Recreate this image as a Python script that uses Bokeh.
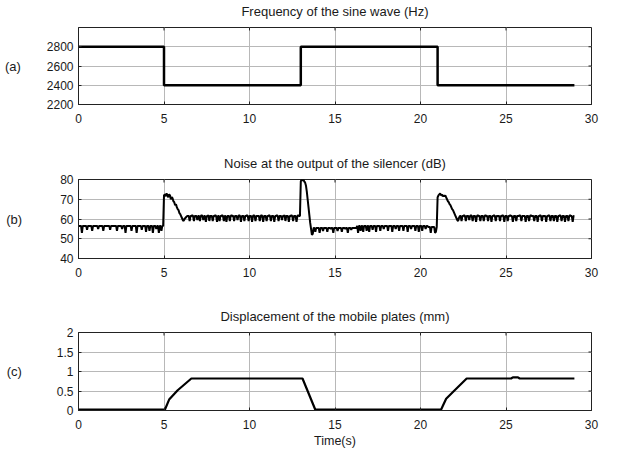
import numpy as np
from bokeh.plotting import figure
from bokeh.models import Range1d, FixedTicker, NumeralTickFormatter, LinearAxis
from bokeh.layouts import column
from bokeh.embed import file_html
from bokeh.resources import INLINE

# ---------------- data ----------------
x_ticks = [0, 5, 10, 15, 20, 25, 30]

freq_t = [0, 5, 5, 13, 13, 21, 21, 29]
freq_hz = [2800, 2800, 2400, 2400, 2800, 2800, 2400, 2400]
freq_ticks = [2200, 2400, 2600, 2800]

noise_step = 0.05
noise_db = [
    # 0 s
    56.5, 56.5, 56.5, 56.5, 53, 56.5, 56.5, 56.5, 56.5, 56.5, 54.5, 56.5, 56.5, 56.5, 56.5, 56.5, 54, 56.5, 56.5, 56.5,
    # 1 s
    56.5, 56.5, 56.5, 55, 56.5, 56.5, 56.5, 56.5, 56.5, 54, 56.5, 56.5, 56.5, 56.5, 56.5, 56.5, 56.5, 54.5, 56.5, 56.5,
    # 2 s
    56.5, 56.5, 56.5, 56.5, 56.5, 54, 56.5, 56.5, 56.5, 56.5, 56.5, 55, 56.5, 56.5, 56.5, 53, 56.5, 56.5, 56.5, 56.5,
    # 3 s
    56.5, 56.5, 54, 56.5, 56.5, 56.5, 56.5, 56.5, 53, 56.5, 56.5, 56.5, 56.5, 56.5, 54.5, 56.5, 56.5, 56.5, 56.5, 53.5,
    # 4 s
    56.5, 56.5, 56.5, 54, 56.5, 56.5, 56.5, 53, 56.5, 56.5, 56.5, 55, 56.5, 56.5, 53, 56.5, 56.5, 54, 56.5, 56.5,
    # 5 s
    72, 72.5, 71.5, 73, 72, 71, 72.5, 72, 70, 71, 70.5, 69, 68.5, 67, 67.5, 66, 65, 64.5, 63, 62.5,
    # 6 s
    61.5, 60.5, 59.5, 59, 60, 60.5, 61, 61.5, 61.5, 61.5, 59, 61.5, 61.5, 62, 61.5, 59, 61.5, 61.5, 61.5, 59.5,
    # 7 s
    61.5, 61.5, 59, 61.5, 62, 61.5, 59.5, 61.5, 61.5, 58.5, 61.5, 61.5, 62, 59, 61.5, 61.5, 61.5, 59, 61.5, 61.5,
    # 8 s
    62, 61.5, 58.5, 61.5, 61.5, 59, 61.5, 61.5, 62, 61.5, 59, 61.5, 61.5, 58.5, 61.5, 61.5, 61.5, 59, 61.5, 62,
    # 9 s
    61.5, 61.5, 59, 61.5, 61.5, 61.5, 59.5, 61.5, 62, 61.5, 58.5, 61.5, 61.5, 61.5, 59, 61.5, 61.5, 62, 61.5, 59,
    # 10 s
    61.5, 61.5, 61.5, 58.5, 61.5, 62, 61.5, 59, 61.5, 61.5, 61.5, 61.5, 59, 61.5, 62, 61.5, 58.5, 61.5, 61.5, 61.5,
    # 11 s
    59, 61.5, 61.5, 62, 61.5, 59, 61.5, 61.5, 61.5, 58.5, 61.5, 61.5, 62, 61.5, 59, 61.5, 61.5, 61.5, 59.5, 61.5,
    # 12 s
    61.5, 62, 59, 61.5, 61.5, 61.5, 58.5, 61.5, 61.5, 62, 61.5, 59, 61.5, 61.5, 61.5, 58.5, 61.5, 62, 61.5, 61.5,
    # 13 s
    79, 80, 79.5, 80, 79, 78.5, 77, 74, 70, 66, 62, 58, 55, 52, 52.5, 55.5, 55.5, 53.5, 55.5, 55.5,
    # 14 s
    55.5, 55.5, 53, 55.5, 55.5, 55.5, 54, 55.5, 55.5, 55.5, 55.5, 53.5, 55.5, 55.5, 55.5, 55, 55.5, 55.5, 53, 55.5,
    # 15 s
    55.5, 55.5, 55.5, 54, 55.5, 55.5, 55.5, 55.5, 53.5, 55.5, 55.5, 55.5, 55, 55.5, 55.5, 53, 55.5, 55.5, 55.5, 54.5,
    # 16 s
    55.5, 55.5, 55.5, 55.5, 55.5, 55.5, 56.5, 53, 56.5, 56.5, 54, 56.5, 56.5, 53.5, 56.5, 56.5, 56.5, 54, 56.5, 56.5,
    # 17 s
    53.5, 56.5, 56.5, 56.5, 54.5, 56.5, 56.5, 56.5, 53.5, 56.5, 56.5, 56.5, 56.5, 54, 56.5, 56.5, 56.5, 55, 56.5, 56.5,
    # 18 s
    56.5, 56.5, 54, 56.5, 56.5, 56.5, 56.5, 53.5, 56.5, 56.5, 56.5, 55, 56.5, 56.5, 56.5, 54, 56.5, 56.5, 56.5, 56.5,
    # 19 s
    54, 56.5, 56.5, 56.5, 56.5, 53.5, 56.5, 56.5, 56.5, 55, 56.5, 56.5, 56.5, 56.5, 54, 56.5, 56.5, 56.5, 53.5, 56.5,
    # 20 s
    56.5, 56.5, 54, 56.5, 56.5, 56.5, 55, 56.5, 56.5, 56, 56, 56, 53, 56, 56, 56, 56, 53, 53.5, 56,
    # 21 s
    71, 72, 72.5, 73, 72, 72.5, 71.5, 72, 71.5, 72, 71, 70, 69, 68.5, 67.5, 67, 66, 65, 64.5, 63.5,
    # 22 s
    62.5, 61.5, 60.5, 59.5, 59, 60.5, 61.5, 61.5, 59, 61.5, 61.5, 62, 61.5, 59, 61.5, 61.5, 61.5, 59.5, 61.5, 62,
    # 23 s
    61.5, 59, 61.5, 61.5, 61.5, 58.5, 61.5, 62, 61.5, 61.5, 59, 61.5, 61.5, 61.5, 59, 61.5, 62, 61.5, 61.5, 59,
    # 24 s
    61.5, 61.5, 61.5, 58.5, 61.5, 61.5, 62, 61.5, 59, 61.5, 61.5, 61.5, 61.5, 59, 61.5, 61.5, 62, 61.5, 58.5, 61.5,
    # 25 s
    61.5, 61.5, 59, 61.5, 61.5, 62, 61.5, 61.5, 58.5, 61.5, 61.5, 61.5, 59, 61.5, 61.5, 61.5, 62, 61.5, 59, 61.5,
    # 26 s
    61.5, 61.5, 61.5, 58.5, 61.5, 61.5, 61.5, 59, 61.5, 62, 61.5, 61.5, 61.5, 59, 61.5, 61.5, 61.5, 58.5, 61.5, 61.5,
    # 27 s
    62, 61.5, 59, 61.5, 61.5, 61.5, 61.5, 58.5, 61.5, 61.5, 62, 61.5, 59, 61.5, 61.5, 61.5, 59, 61.5, 61.5, 61.5,
    # 28 s
    58.5, 61.5, 61.5, 62, 61.5, 59, 61.5, 61.5, 61.5, 58.5, 61.5, 61.5, 61.5, 59, 61.5, 62, 61.5, 61.5, 58.5, 61.5,
    # 29 s
    61.5,
]
noise_t = np.round(np.arange(len(noise_db)) * noise_step, 3)
noise_ticks = [40, 50, 60, 70, 80]

disp_t = [0, 5.05, 5.3, 5.8, 6.6, 13.1, 13.85, 21.2, 21.5, 22.0, 22.7, 25.3, 25.4, 25.7, 25.8, 29]
disp_mm = [0.02, 0.02, 0.28, 0.52, 0.82, 0.82, 0.02, 0.02, 0.3, 0.52, 0.82, 0.82, 0.85, 0.85, 0.82, 0.82]
disp_ticks = [0, 0.5, 1, 1.5, 2]

titles = ["Frequency of the sine wave (Hz)",
          "Noise at the output of the silencer (dB)",
          "Displacement of the mobile plates (mm)"]
letters = ["(a)", "(b)", "(c)"]

FONT = "Liberation Sans"
TXT = "#1a1a1a"
FRAME = "#222222"
GRID = "#b8b8b8"
X_RANGE = (0, 30)
TICK_PX = 3


def make_fig(height, top, bottom, title, yr, yticks, letter, letter_standoff,
             xlabel=None, yfmt=None):
    p = figure(width=618, height=height, output_backend="svg", toolbar_location=None,
               x_range=Range1d(*X_RANGE), y_range=Range1d(*yr),
               min_border_left=78, min_border_right=27,
               min_border_top=top, min_border_bottom=bottom)
    p.outline_line_color = FRAME
    p.outline_line_width = 1
    p.background_fill_color = "white"
    p.border_fill_color = "white"

    # title drawn as the label of a tick-less top axis (gives control of its distance to the box)
    top_ax = LinearAxis(ticker=FixedTicker(ticks=[]), axis_label=title,
                        axis_label_text_font=FONT, axis_label_text_font_size="13px",
                        axis_label_text_font_style="normal", axis_label_text_color=TXT,
                        axis_label_standoff=9, major_label_standoff=0,
                        major_tick_in=0, major_tick_out=0, minor_tick_in=0, minor_tick_out=0,
                        axis_line_color=None)
    p.add_layout(top_ax, "above")

    xa = p.below[0]
    ya = p.left[0]
    for ax in (xa, ya):
        ax.major_tick_in = TICK_PX
        ax.major_tick_out = 0
        ax.minor_tick_in = 0
        ax.minor_tick_out = 0
        ax.axis_line_color = FRAME
        ax.major_tick_line_color = FRAME
        ax.major_label_text_font = FONT
        ax.major_label_text_font_size = "12px"
        ax.major_label_text_color = TXT
    xa.ticker = FixedTicker(ticks=x_ticks)
    ya.ticker = FixedTicker(ticks=yticks)
    xa.major_label_standoff = 9
    ya.major_label_standoff = 5
    if yfmt is not None:
        ya.formatter = yfmt

    # panel letter as a horizontal y-axis label
    ya.axis_label = letter
    ya.axis_label_orientation = "horizontal"
    ya.axis_label_text_font = FONT
    ya.axis_label_text_font_size = "13px"
    ya.axis_label_text_font_style = "normal"
    ya.axis_label_text_color = TXT
    ya.axis_label_standoff = letter_standoff

    p.xgrid.ticker = FixedTicker(ticks=x_ticks)
    p.ygrid.ticker = FixedTicker(ticks=yticks)
    for g in (p.xgrid[0], p.ygrid[0]):
        g.grid_line_color = GRID
        g.grid_line_width = 1

    # MATLAB-like inner ticks on the top and right edges of the box
    frame_w = 618 - 78 - 27
    frame_h = height - top - bottom
    dy = (yr[1] - yr[0]) * TICK_PX / frame_h
    dx = (X_RANGE[1] - X_RANGE[0]) * TICK_PX / frame_w
    p.segment(x0=x_ticks, y0=[yr[1]] * len(x_ticks), x1=x_ticks, y1=[yr[1] - dy] * len(x_ticks),
              line_color=FRAME, line_width=1)
    p.segment(x0=[X_RANGE[1]] * len(yticks), y0=yticks, x1=[X_RANGE[1] - dx] * len(yticks), y1=yticks,
              line_color=FRAME, line_width=1)

    if xlabel:
        xa.axis_label = xlabel
        xa.axis_label_text_font = FONT
        xa.axis_label_text_font_size = "12.5px"
        xa.axis_label_text_font_style = "normal"
        xa.axis_label_text_color = TXT
        xa.axis_label_standoff = 2
    return p


p1 = make_fig(150, 26, 46, titles[0], (2200, 3000), freq_ticks, letters[0], 23)
p1.line(freq_t, freq_hz, line_color="black", line_width=2.5)

p2 = make_fig(150, 29, 42, titles[1], (40, 80), noise_ticks, letters[1], 35)
p2.line(noise_t, noise_db, line_color="black", line_width=2)

p3 = make_fig(158, 32, 48, titles[2], (0, 2), disp_ticks, letters[2], 32,
              xlabel="Time(s)", yfmt=NumeralTickFormatter(format="0.[0]"))
p3.line(disp_t, disp_mm, line_color="black", line_width=2.2)

layout = column(p1, p2, p3, spacing=0)
open("out.html", "w").write(file_html(layout, INLINE))
